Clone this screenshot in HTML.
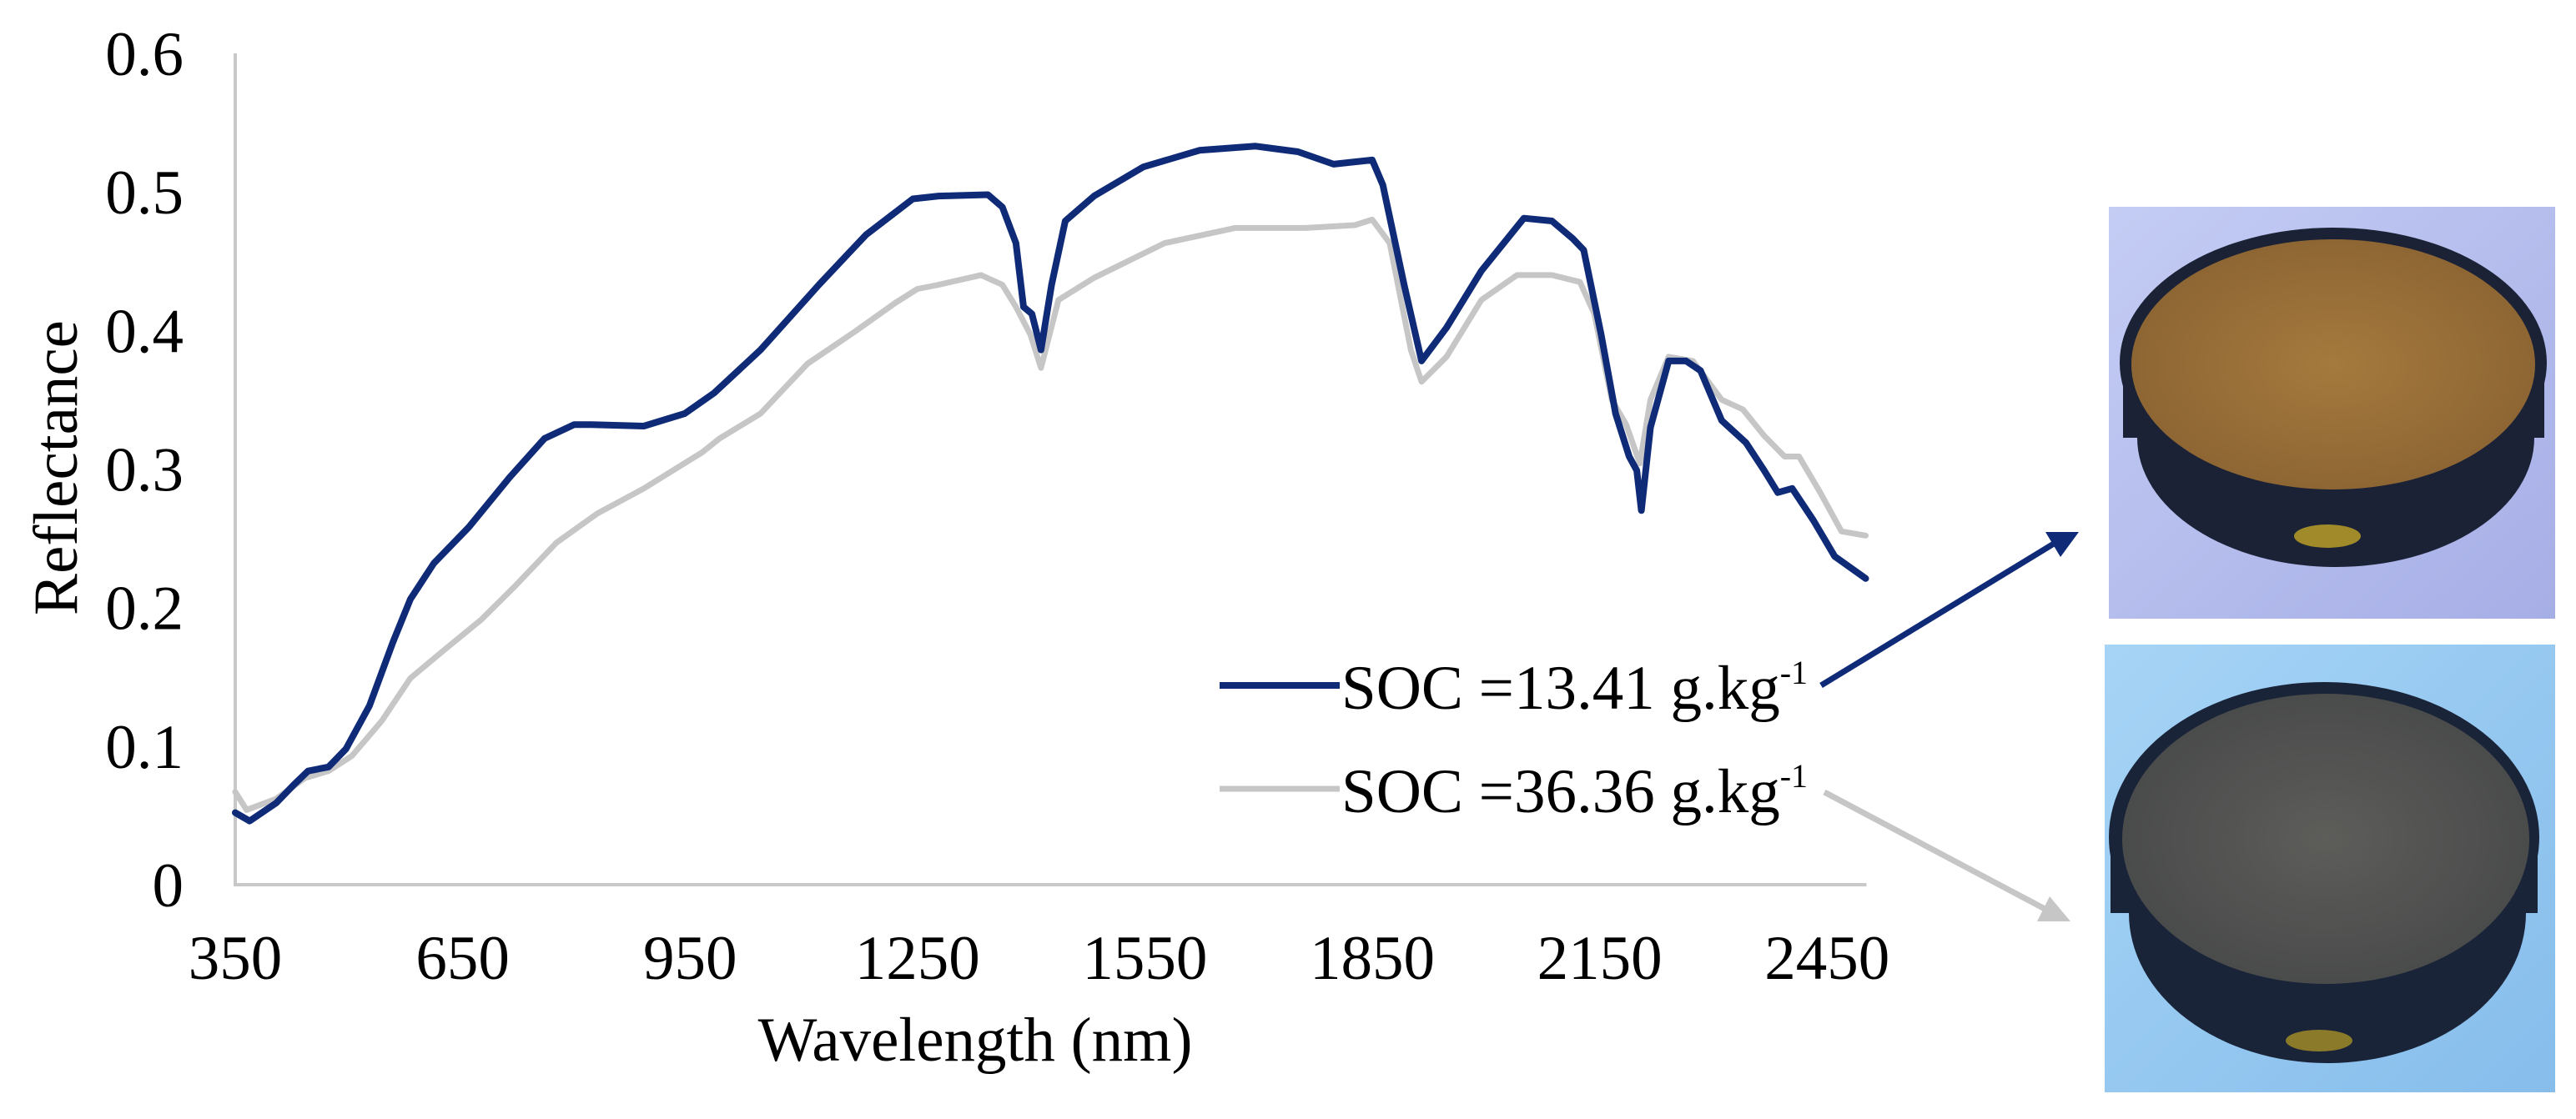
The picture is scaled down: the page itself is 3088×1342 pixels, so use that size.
<!DOCTYPE html>
<html><head><meta charset="utf-8"><style>
html,body{margin:0;padding:0;background:#fff;}
svg{display:block;font-family:"Liberation Serif",serif;}
</style></head><body>
<svg id="chart" width="3088" height="1342" viewBox="0 0 3088 1342">
<defs>
<linearGradient id="bg1" x1="0" y1="0" x2="1" y2="1"><stop offset="0" stop-color="#c4cdf4"/><stop offset="1" stop-color="#a6aee6"/></linearGradient>
<linearGradient id="bg2" x1="0" y1="0" x2="1" y2="1"><stop offset="0" stop-color="#a6d4f6"/><stop offset="1" stop-color="#86bdeb"/></linearGradient>
<radialGradient id="soil1"><stop offset="0" stop-color="#a57a3e"/><stop offset="1" stop-color="#8e6633"/></radialGradient>
<radialGradient id="soil2"><stop offset="0" stop-color="#5d5d5a"/><stop offset="1" stop-color="#4a4b4b"/></radialGradient>
</defs>
<g id="axes"></g>
<g id="series"></g>
<g font-size="75" fill="#000">
<line x1="1462" y1="822" x2="1606" y2="822" stroke="#0f2a77" stroke-width="8"/>
<text x="1608" y="850">SOC =13.41 g.kg<tspan font-size="40" dy="-30">-1</tspan></text>
<line x1="1462" y1="946" x2="1606" y2="946" stroke="#c6c6c6" stroke-width="7"/>
<text x="1608" y="974">SOC =36.36 g.kg<tspan font-size="40" dy="-30">-1</tspan></text>
</g>
<g>
<line x1="2183" y1="822" x2="2462" y2="652" stroke="#0f2a77" stroke-width="7"/>
<polygon points="2492,638 2452,638 2470,668" fill="#0f2a77"/>
<line x1="2187" y1="950" x2="2455" y2="1092" stroke="#c6c6c6" stroke-width="7"/>
<polygon points="2482,1105 2442,1105 2457,1075" fill="#c6c6c6"/>
</g>
<g>
<rect x="2528" y="248" width="535" height="494" fill="url(#bg1)"/>
<ellipse cx="2800" cy="525" rx="238" ry="155" fill="#1b2236"/>
<rect x="2545" y="435" width="505" height="90" fill="#1b2236"/>
<ellipse cx="2797" cy="435" rx="256" ry="162" fill="#1b2236"/>
<ellipse cx="2797" cy="437" rx="242" ry="150" fill="url(#soil1)"/>
<ellipse cx="2790" cy="643" rx="40" ry="14" fill="#a08a2a"/>
</g>
<g>
<rect x="2523" y="773" width="540" height="537" fill="url(#bg2)"/>
<ellipse cx="2790" cy="1095" rx="238" ry="180" fill="#1a2438"/>
<rect x="2530" y="1004" width="512" height="91" fill="#1a2438"/>
<ellipse cx="2786" cy="1004" rx="258" ry="186" fill="#1a2438"/>
<ellipse cx="2788" cy="1006" rx="244" ry="174" fill="url(#soil2)"/>
<ellipse cx="2780" cy="1248" rx="40" ry="13" fill="#8a7a2a"/>
</g>
</svg>
<script>
const wlBlue=[350,369,404,427,446,473,496,527,558,581,612,658,712,758,797,820,889,943,982,1043,1120,1182,1244,1278,1343,1362,1380,1390,1401,1413,1427,1445,1483,1548,1622,1696,1752,1799,1850,1864,1892,1915,1948,1994,2050,2087,2115,2129,2152,2171,2189,2199,2205,2217,2241,2264,2283,2311,2343,2367,2385,2404,2432,2460,2501];
const valBlue=[0.052,0.046,0.059,0.072,0.082,0.085,0.098,0.129,0.175,0.206,0.232,0.258,0.294,0.322,0.332,0.332,0.331,0.34,0.355,0.386,0.433,0.469,0.495,0.497,0.498,0.489,0.463,0.417,0.412,0.386,0.433,0.479,0.497,0.518,0.530,0.533,0.529,0.520,0.523,0.505,0.433,0.378,0.402,0.443,0.481,0.479,0.466,0.458,0.397,0.34,0.309,0.299,0.270,0.330,0.378,0.378,0.371,0.335,0.319,0.299,0.283,0.286,0.263,0.237,0.221];
const wlGray=[350,365,404,442,473,504,543,581,627,674,720,774,828,889,966,989,1043,1105,1167,1221,1250,1278,1334,1362,1380,1399,1413,1436,1483,1576,1669,1762,1827,1850,1873,1901,1915,1948,1994,2041,2087,2124,2143,2166,2185,2203,2217,2241,2273,2311,2339,2367,2394,2413,2441,2469,2501];
const valGray=[0.067,0.054,0.062,0.077,0.082,0.093,0.118,0.149,0.170,0.191,0.216,0.247,0.268,0.286,0.312,0.322,0.340,0.376,0.399,0.420,0.430,0.433,0.440,0.433,0.417,0.397,0.373,0.422,0.438,0.463,0.474,0.474,0.476,0.480,0.463,0.386,0.363,0.381,0.422,0.440,0.440,0.435,0.412,0.350,0.332,0.304,0.350,0.381,0.378,0.350,0.343,0.324,0.309,0.309,0.283,0.255,0.252];
const yTicks=[0,0.1,0.2,0.3,0.4,0.5,0.6];
const yTickLabels=["0","0.1","0.2","0.3","0.4","0.5","0.6"];
const xTicks=[350,650,950,1250,1550,1850,2150,2450];
const xTickLabels=["350","650","950","1250","1550","1850","2150","2450"];
const NS="http://www.w3.org/2000/svg";
function X(w){return 282+(w-350)*272.6/300;}
function Y(v){return 1061-v*1661.7;}
function mk(tag,attrs,parent){const e=document.createElementNS(NS,tag);for(const k in attrs)e.setAttribute(k,attrs[k]);parent.appendChild(e);return e;}
const axes=document.getElementById('axes');
const ya=mk('line',{x1:282,y1:Y(0.6),x2:282,y2:Y(0),stroke:'#c8c8c8','stroke-width':4},axes);


const xa=mk('line',{x1:280,y1:Y(0),x2:X(2502),y2:Y(0),stroke:'#c8c8c8','stroke-width':4},axes);


yTicks.forEach((v,i)=>{
  const t=mk('text',{x:220,y:Y(v)+26,'text-anchor':'end','font-size':75},axes);
  t.textContent=yTickLabels[i];
  
  
});
xTicks.forEach((w,i)=>{
  const t=mk('text',{x:X(w),y:1174,'text-anchor':'middle','font-size':75},axes);
  t.textContent=xTickLabels[i];
  
  
});
const yt=mk('text',{x:0,y:0,'text-anchor':'middle','font-size':75,transform:'translate(92,561) rotate(-90)'},axes);
yt.textContent='Reflectance';


const xt=mk('text',{x:1169,y:1272,'text-anchor':'middle','font-size':75},axes);
xt.textContent='Wavelength (nm)';


const series=document.getElementById('series');
function path(ws,vs){return ws.map((w,i)=>(i?'L':'M')+X(w).toFixed(1)+','+Y(vs[i]).toFixed(1)).join(' ');}
const pg=mk('path',{d:path(wlGray,valGray),fill:'none',stroke:'#c6c6c6','stroke-width':7,'stroke-linejoin':'round','stroke-linecap':'round'},series);


const pb=mk('path',{d:path(wlBlue,valBlue),fill:'none',stroke:'#0f2a77','stroke-width':8,'stroke-linejoin':'round','stroke-linecap':'round'},series);


</script>
</body></html>
